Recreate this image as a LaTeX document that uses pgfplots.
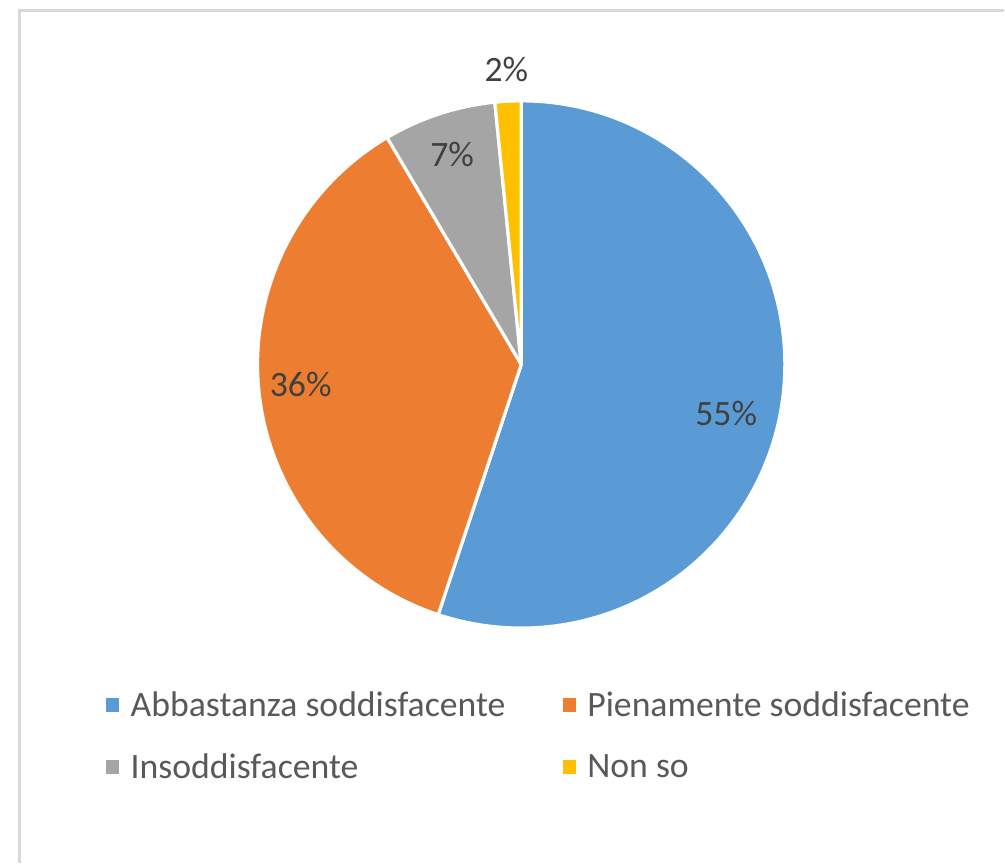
\documentclass[border=0pt]{standalone}
\usepackage{fontspec}
\setmainfont{Carlito}
\usepackage{pgfplots}
\usepackage{pgfplotstable}
\pgfplotsset{compat=1.18}

\definecolor{cA}{HTML}{5B9BD5}
\definecolor{cB}{HTML}{ED7D31}
\definecolor{cC}{HTML}{A5A5A5}
\definecolor{cD}{HTML}{FFC000}
\definecolor{lbl}{HTML}{404040}
\definecolor{leg}{HTML}{595959}
\definecolor{frame}{HTML}{D9D9D9}

% share (%), colour, label distance (fraction of radius), label angle shift
\pgfplotstableread{
val  col f    da
55.1 cA  0.80 -4.4
36.4 cB  0.84 -1.0
6.9  cC  0.84 0
1.6  cD  1.12 0
}\pietab
\pgfplotstablecreatecol[expr accum={\pgfmathaccuma + \thisrow{val}}{0}]{cum}\pietab

\newcommand\legsq[1]{\path[draw=none, fill=none] (0pt,0pt) -- (16.5pt,0pt); \fill[#1, draw=none] (0pt,-5pt) rectangle (10pt,5pt);}

\begin{document}
\begin{tikzpicture}
\begin{axis}[
  x=0.75pt, y=0.75pt,
  xmin=0, xmax=1005, ymin=0, ymax=864,
  hide axis, clip=false,
  legend columns=2,
  legend cell align=left,
  legend style={at={(axis cs:102,127)}, anchor=west, draw=none, fill=none,
    font=\fontsize{26.8}{32}\selectfont, text=leg, row sep=22.5pt,
    /tikz/every even column/.append style={column sep=41pt}},
]
\path (axis cs:0,0) rectangle (axis cs:1005,864);
\draw[frame, line width=2.2pt] (axis cs:1005,853.5) -- (axis cs:19.5,853.5) -- (axis cs:19.5,0);

\pgfplotsinvokeforeach{0,...,3}{
  \pgfplotsextra{
    \pgfplotstablegetelem{#1}{val}\of\pietab \pgfmathsetmacro\v{\pgfplotsretval}
    \pgfplotstablegetelem{#1}{cum}\of\pietab \pgfmathsetmacro\c{\pgfplotsretval}
    \pgfplotstablegetelem{#1}{col}\of\pietab \edef\col{\pgfplotsretval}
    \pgfplotstablegetelem{#1}{f}\of\pietab \pgfmathsetmacro\rl{\pgfplotsretval*198}
    \pgfplotstablegetelem{#1}{da}\of\pietab \pgfmathsetmacro\da{\pgfplotsretval}
    \pgfmathsetmacro\aS{90-3.6*(\c-\v)}
    \pgfmathsetmacro\aE{90-3.6*\c}
    \pgfmathsetmacro\aM{(\aS+\aE)/2+\da}
    \pgfmathtruncatemacro\pv{round(\v)}
    \fill[fill=\col, draw=white, line width=2.4pt, line join=round]
      (axis cs:522,499) -- ++(\aS:198pt) arc[start angle=\aS, end angle=\aE, radius=198pt] -- cycle;
    \path (axis cs:522,499) ++(\aM:\rl pt) node[text=lbl, font=\fontsize{26.8}{32}\selectfont] {\pv\%};
  }
}

\addlegendimage{legend image code/.code={\legsq{cA}}}
\addlegendentry{Abbastanza soddisfacente}
\addlegendimage{legend image code/.code={\legsq{cB}}}
\addlegendentry{Pienamente soddisfacente}
\addlegendimage{legend image code/.code={\legsq{cC}}}
\addlegendentry{Insoddisfacente}
\addlegendimage{legend image code/.code={\legsq{cD}}}
\addlegendentry{Non so}
\end{axis}
\end{tikzpicture}
\end{document}
